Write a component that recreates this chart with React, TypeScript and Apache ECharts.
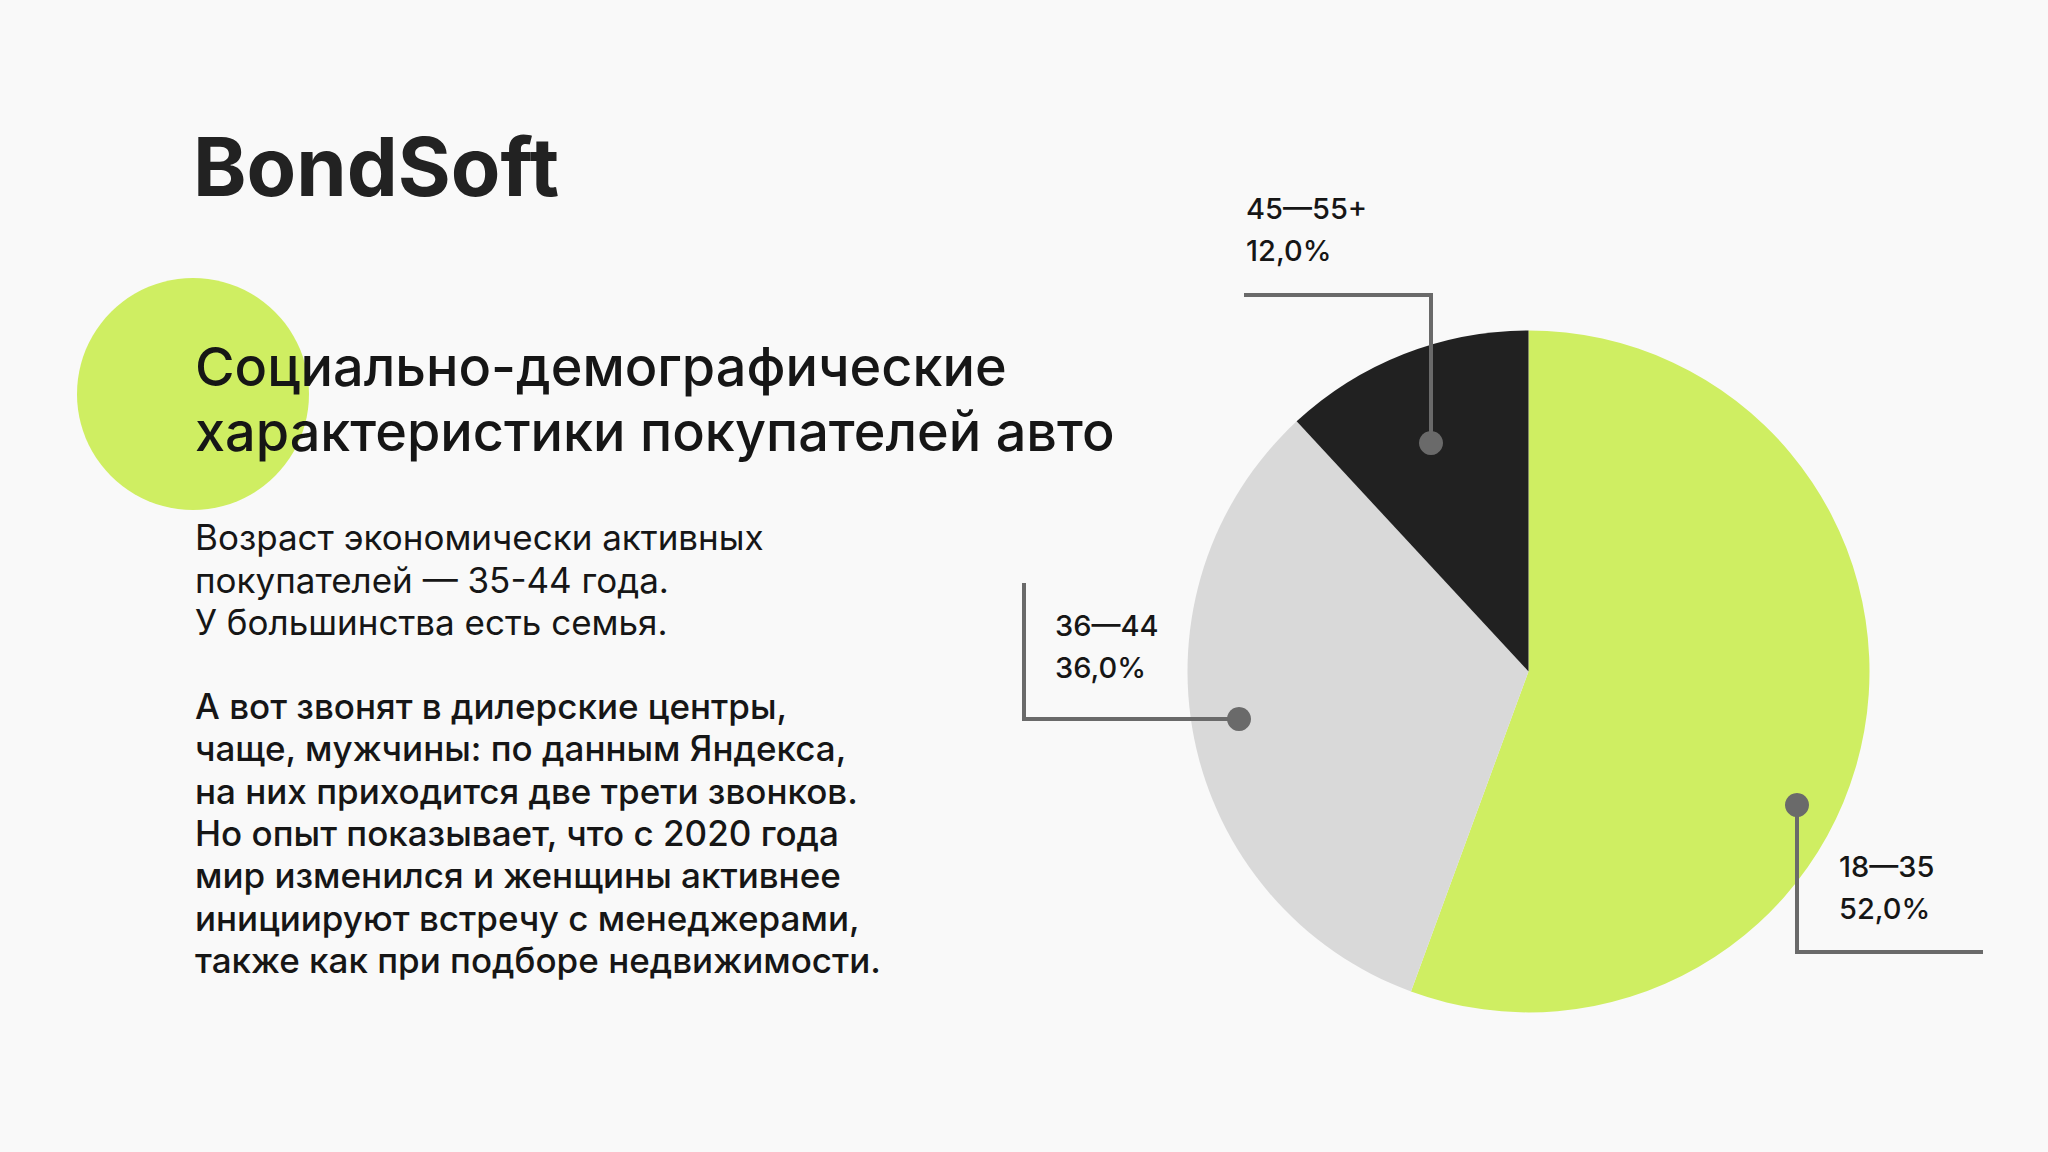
import React, { useEffect, useRef } from "react";
import * as echarts from "echarts";

// ---- data ----
const ageGroups: string[] = ["18—35", "36—44", "45—55+"];
// Percentages as printed in the reference's labels.
const shareLabels: string[] = ["52,0%", "36,0%", "12,0%"];
// NOTE: the reference's slice ANGLES do not match its printed labels.
// These are the arc proportions (clockwise from
// 12 o'clock), used so the drawing matches; they intentionally differ from
// shareLabels. To draw slices from the labelled values, use [52, 36, 12].
const sliceShares: number[] = [55.6, 32.5, 11.9];
const sliceColors: string[] = ["#cfee62", "#d9d9d9", "#212121"];

const logoText = "BondSoft";
const titleLines: string[] = [
  "Социально-демографические",
  "характеристики покупателей авто",
];
const introLines: string[] = [
  "Возраст экономически активных",
  "покупателей — 35-44 года.",
  "У большинства есть семья.",
];
const bodyLines: string[] = [
  "А вот звонят в дилерские центры,",
  "чаще, мужчины: по данным Яндекса,",
  "на них приходится две трети звонков.",
  "Но опыт показывает, что с 2020 года",
  "мир изменился и женщины активнее",
  "инициируют встречу с менеджерами,",
  "также как при подборе недвижимости.",
];

const W = 2048;
const H = 1152;
const FONT = "Inter, 'Noto Sans', sans-serif";
const INK = "#161616";
const LEAD = "#6a6a6a";

// annotation layout: [dot, elbow, end], label anchor
const leaders = [
  { pts: [[1797, 805], [1797, 952], [1983, 952]], label: [1839, 845] },
  { pts: [[1239, 719], [1024, 719], [1024, 583]], label: [1055, 604] },
  { pts: [[1431, 443], [1431, 295], [1244, 295]], label: [1246, 187] },
];

export default function App() {
  const ref = useRef<HTMLDivElement>(null);
  useEffect(() => {
    if (!ref.current) return;
    const chart = echarts.init(ref.current, null, { renderer: "svg", width: W, height: H });
    const graphic: any[] = [
      {
        type: "circle",
        shape: { cx: 193, cy: 394, r: 116 },
        style: { fill: sliceColors[0] },
        z: 1,
      },
      {
        type: "text",
        x: 193,
        y: 167,
        z: 10,
        style: {
          text: logoText,
          font: `700 81px ${FONT}`,
          fill: "#222222",
          verticalAlign: "middle",
        },
      },
      {
        type: "text",
        x: 195,
        y: 334,
        z: 10,
        style: {
          text: titleLines.join("\n"),
          font: `500 54px ${FONT}`,
          lineHeight: 65,
          fill: INK,
          verticalAlign: "top",
        },
      },
      {
        type: "text",
        x: 195,
        y: 516,
        z: 10,
        style: {
          text: introLines.join("\n"),
          font: `400 35px ${FONT}`,
          lineHeight: 42.5,
          fill: INK,
          verticalAlign: "top",
        },
      },
      {
        type: "text",
        x: 195,
        y: 685,
        z: 10,
        style: {
          text: bodyLines.join("\n"),
          font: `500 35px ${FONT}`,
          lineHeight: 42.3,
          fill: INK,
          verticalAlign: "top",
        },
      },
    ];
    leaders.forEach((ld, i) => {
      graphic.push({
        type: "polyline",
        z: 100,
        shape: { points: ld.pts },
        style: { stroke: LEAD, lineWidth: 4, fill: null },
      });
      graphic.push({
        type: "circle",
        z: 101,
        shape: { cx: ld.pts[0][0], cy: ld.pts[0][1], r: 12 },
        style: { fill: LEAD },
      });
      graphic.push({
        type: "text",
        z: 102,
        x: ld.label[0],
        y: ld.label[1],
        style: {
          text: `${ageGroups[i]}\n${shareLabels[i]}`,
          font: `500 29px ${FONT}`,
          lineHeight: 42,
          fill: INK,
          verticalAlign: "top",
        },
      });
    });

    chart.setOption({
      animation: false,
      backgroundColor: "#f9f9f9",
      series: [
        {
          type: "pie",
          center: [1528.5, 671.4],
          radius: 341,
          startAngle: 90,
          clockwise: true,
          silent: true,
          label: { show: false },
          labelLine: { show: false },
          itemStyle: { borderWidth: 0 },
          data: ageGroups.map((name, i) => ({
            name,
            value: sliceShares[i],
            itemStyle: { color: sliceColors[i] },
          })),
        },
      ],
      graphic,
    });
    return () => chart.dispose();
  }, []);
  return (
    <div
      ref={ref}
      style={{ position: "absolute", left: 0, top: 0, width: W, height: H }}
    />
  );
}
